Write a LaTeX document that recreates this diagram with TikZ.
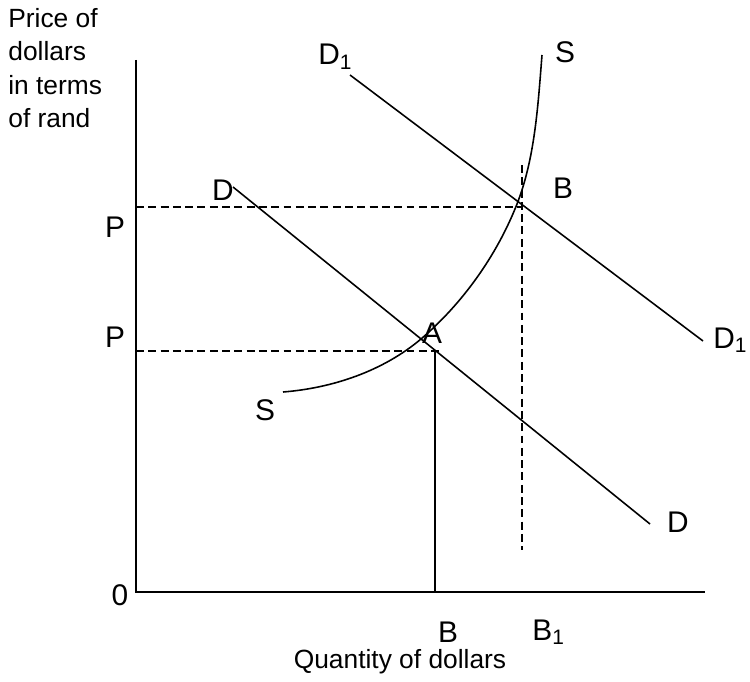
\documentclass[tikz,border=0pt]{standalone}
\usepackage{fontspec}
\setmainfont{Liberation Sans}
\usepackage{tikz}
\usetikzlibrary{positioning,calc}

\begin{document}
\begin{tikzpicture}[
  x=0.02cm, y=-0.02cm,
  font=\fontsize{15}{19}\selectfont,
  curve/.style={line width=0.9pt, black},
  guide/.style={line width=0.9pt, dash pattern=on 4.5pt off 2.5pt},
  lbl/.style={inner sep=0pt, font=\fontsize{17}{20}\selectfont}
]
\useasboundingbox (0,0) rectangle (750,682);

% axes
\coordinate (O) at (136,592);
\coordinate (ytop) at (136,60);
\coordinate (xend) at (705,592);
\draw[curve] (ytop) -- (O) -- (xend);

% equilibrium points
\coordinate (A) at (421,339);
\coordinate (B) at (517,204);

% demand curves
\coordinate (D0s) at (233,187);
\coordinate (D0e) at (650,524);
\coordinate (D1s) at (350,75);
\coordinate (D1e) at (703,341);
\draw[curve] (D0s) -- (D0e);
\draw[curve] (D1s) -- (D1e);

% supply curve
\coordinate (S0) at (283,392);
\coordinate (S1) at (542,55);
\draw[curve] (S0) .. controls (333,388) and (383,371) .. (A)
  .. controls (463,303) and (497,255) .. (B)
  .. controls (535,158) and (538,105) .. (S1);

% guide lines
\coordinate (pA) at (136,351);
\coordinate (qA) at (442,351);
\coordinate (pB) at (136,207);
\coordinate (qB) at (523,207);
\coordinate (vAt) at (435,351);
\coordinate (vAb) at (435,592);
\coordinate (vBt) at (522,165);
\coordinate (vBb) at (522,550);
\draw[guide] (pA) -- (qA);
\draw[guide] (pB) -- (qB);
\draw[curve] (vAt) -- (vAb);
\draw[guide] (vBt) -- (vBb);

% labels
\node[inner sep=0pt, anchor=north west, align=left] (ytitle) at (8,8) {Price of\\dollars\\in terms\\of rand};
\node[lbl] (zero) at (120,595) {0};
\node[lbl] (P1) at (115,227) {P};
\node[lbl] (P0) at (115,337) {P};
\node[lbl] (Blbl) at (448,632) {B};
\node[lbl, anchor=west] (B1lbl) at (532,632) {B\textsubscript{1}};
\node[inner sep=0pt] (xtitle) at (400,662) {Quantity of dollars};
\node[lbl] (Dtop) at (223,190) {D};
\node[lbl] (Dbot) at (678,522) {D};
\node[lbl, anchor=west] (D1top) at (318,57) {D\textsubscript{1}};
\node[lbl, anchor=west] (D1bot) at (713,340) {D\textsubscript{1}};
\node[lbl] (Stop) at (565,52) {S};
\node[lbl] (Sbot) at (265,410) {S};
\node[lbl] (Albl) at (432,333) {A};
\node[lbl] (Blbl2) at (563,188) {B};
\end{tikzpicture}
\end{document}
